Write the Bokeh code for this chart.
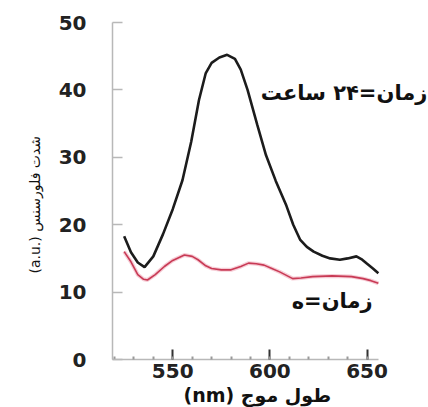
import math
from bokeh.plotting import figure
from bokeh.models import Label, SingleIntervalTicker, Range1d, Title
from bokeh.embed import file_html
from bokeh.resources import INLINE

# wavelength (nm) and fluorescence intensity (a.u.)
wl_24h = [525, 528.5, 532, 535.5, 540, 545, 550, 555, 559.5, 563.5, 567, 570, 574, 578,
          582, 585, 588.5, 593.5, 598, 603, 608.5, 612, 615.5, 619, 622.5, 627, 631,
          636, 640, 644.5, 647.5, 650, 653, 655.8]
int_24h = [18.3, 15.9, 14.4, 13.7, 15.3, 18.6, 22.3, 26.6, 32.3, 38.5, 42.5, 44.0, 44.8, 45.2,
           44.6, 43.0, 40.0, 34.8, 30.3, 26.5, 22.8, 20.0, 17.8, 16.7, 16.0, 15.4, 15.0,
           14.8, 15.0, 15.3, 14.8, 14.2, 13.5, 12.8]

wl_0h = [525, 528.5, 532, 535, 537, 541, 545.7, 550, 556, 560, 563, 567, 570, 575, 580,
         585, 589, 593, 597, 601, 605, 611.7, 616, 622, 632, 642, 648, 652, 655.8]
int_0h = [16.0, 14.5, 12.6, 11.9, 11.8, 12.6, 13.8, 14.7, 15.5, 15.3, 14.8, 13.9, 13.5, 13.3, 13.3,
          13.8, 14.3, 14.2, 14.0, 13.5, 13.0, 12.0, 12.1, 12.3, 12.4, 12.3, 12.0, 11.7, 11.3]

label_24h = "زمان=۲۴ ساعت"
label_0h = "زمان=ه"
x_title = "(nm) طول موج"
y_title = "(a.u.) شدت فلورسنس"

p = figure(width=428, height=407, output_backend="svg", toolbar_location=None,
           x_range=Range1d(519, 681.6), y_range=Range1d(0, 50),
           min_border_left=112, min_border_right=0, min_border_top=22, min_border_bottom=48)
p.outline_line_color = None
p.grid.visible = False
p.background_fill_color = "white"
p.border_fill_color = "white"

# red (t=0) with soft pink halo
p.line(wl_0h, int_0h, line_color="#f2b8c4", line_width=4, line_alpha=0.7)
p.line(wl_0h, int_0h, line_color="#c83a55", line_width=1.6)
# black (t=24h)
p.line(wl_24h, int_24h, line_color="#1c1c1c", line_width=2.6)

xa = p.xaxis[0]
xa.bounds = (519, 656)
xa.ticker = SingleIntervalTicker(interval=50, num_minor_ticks=5)
xa.axis_line_color = "#b8b8b8"
xa.axis_line_width = 1.5
xa.major_tick_in = 10
xa.major_tick_out = 0
xa.major_tick_line_color = "#333333"
xa.major_tick_line_width = 2
xa.minor_tick_in = 3
xa.minor_tick_out = 0
xa.minor_tick_line_color = "#999999"
xa.minor_tick_line_width = 2
xa.major_label_standoff = 4
xa.major_label_text_font = "DejaVu Sans"
xa.major_label_text_font_style = "bold"
xa.major_label_text_font_size = "20px"
xa.major_label_text_color = "#222222"

ya = p.yaxis[0]
ya.ticker = SingleIntervalTicker(interval=10, num_minor_ticks=0)
ya.axis_line_color = "#b8b8b8"
ya.axis_line_width = 1.5
ya.major_tick_in = 10
ya.major_tick_out = 0
ya.major_tick_line_color = "#b8b8b8"
ya.major_tick_line_width = 1.5
ya.minor_tick_line_color = None
ya.major_label_standoff = 26
ya.major_label_text_font = "DejaVu Sans"
ya.major_label_text_font_style = "bold"
ya.major_label_text_font_size = "20px"
ya.major_label_text_color = "#222222"

p.add_layout(Title(text=x_title, align="left", offset=71, standoff=2,
                   text_font="DejaVu Sans", text_font_style="bold", text_font_size="19px",
                   text_color="#111111"), "below")
p.add_layout(Title(text=y_title, align="left", offset=86, standoff=26,
                   text_font="DejaVu Sans", text_font_style="normal", text_font_size="14px",
                   text_color="#111111"), "left")

p.add_layout(Label(x=681, y=39.6, text=label_24h, text_align="right", text_baseline="middle",
                   text_font="DejaVu Sans", text_font_style="bold", text_font_size="21px",
                   text_color="#111111"))
p.add_layout(Label(x=632, y=8.75, text=label_0h, text_align="center", text_baseline="middle",
                   text_font="DejaVu Sans", text_font_style="bold", text_font_size="21px",
                   text_color="#111111"))

open("out.html", "w").write(file_html(p, INLINE))
